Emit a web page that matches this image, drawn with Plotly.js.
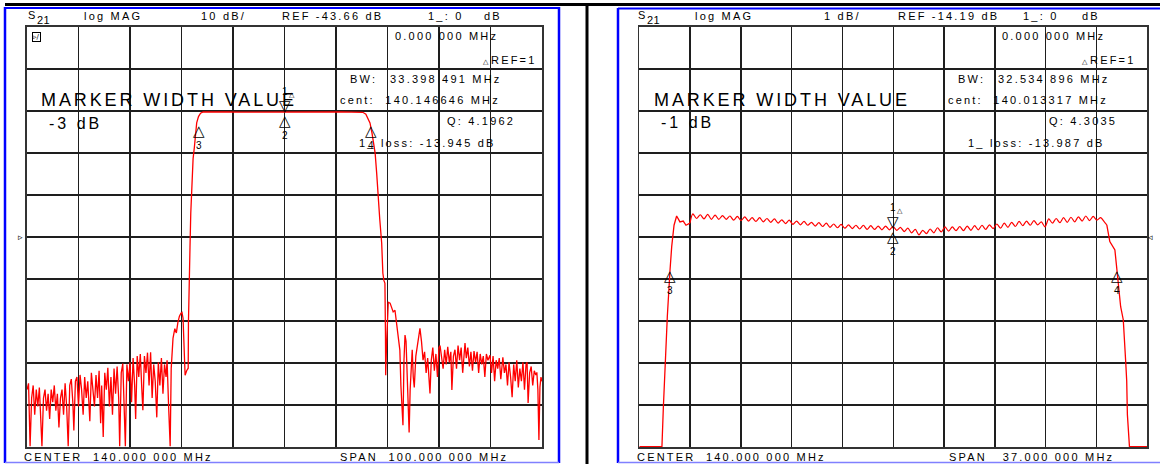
<!DOCTYPE html>
<html>
<head>
<meta charset="utf-8">
<script src="https://cdn.plot.ly/plotly-3.0.1.min.js"></script>
<style>html,body{margin:0;padding:0;background:#fff;}#chart{width:1160px;height:464px;}</style>
</head>
<body>
<div id="chart"></div>
<script>
// ---------------- DATA ----------------
// Left analyzer screen: S21 log MAG, 10 dB/div, REF -43.66 dB, center 140 MHz, span 100 MHz
const leftLowerStopband = [
 [90.0,-80],[90.3,-78.5],[90.6,-93.5],[90.9,-82],[91.2,-79],[91.5,-86],[91.8,-80],[92.1,-84],[92.4,-79.5],[92.7,-88],
 [92.9,-93.5],[93.2,-82],[93.5,-80],[93.8,-85],[94.1,-81],[94.4,-87],[94.7,-80],[95.0,-83],[95.3,-79],[95.6,-85],
 [95.9,-81],[96.2,-89],[96.5,-82],[96.8,-80],[97.1,-86],[97.4,-78.5],[97.7,-84],[98.0,-93.5],[98.3,-79],[98.6,-77.5],
 [98.9,-83],[99.1,-89.7],[99.4,-78],[99.7,-77],[100.0,-84],[100.3,-76.5],[100.6,-80],[100.9,-86],[101.2,-77],[101.5,-82],
 [101.8,-78],[102.2,-87.5],[102.5,-76],[102.8,-80],[103.1,-84],[103.4,-76.5],[103.7,-82],[104.0,-75.5],[104.3,-88],[104.5,-79],
 [104.8,-91.3],[105.1,-76],[105.4,-80],[105.7,-74.8],[106.0,-84],[106.3,-77],[106.6,-86],[106.9,-75],[107.2,-81],[107.5,-74.5],
 [107.8,-82],[108.0,-93.5],[108.3,-76],[108.6,-73.8],[108.9,-84],[109.1,-93.5],[109.4,-74],[109.7,-78],[110.0,-73.5],[110.3,-83],
 [110.6,-72.5],[110.9,-79],[111.1,-87],[111.4,-72],[111.7,-77],[112.0,-71.5],[112.3,-80],[112.5,-84.9],[112.8,-72],[113.1,-76],
 [113.4,-71.2],[113.7,-79],[114.0,-71.1],[114.3,-82],[114.6,-74],[114.9,-78],[115.2,-86.6],[115.5,-73.5],[115.8,-79],[116.1,-72.5],
 [116.4,-81],[116.7,-74],[117.0,-77],[117.2,-73],[117.5,-84],[117.8,-93.5]
];
const leftLowerSkirt = [
 [118.0,-75],[118.35,-67.8],[118.7,-65.5],[119.0,-66.5],[119.3,-64],[119.6,-62.5],[119.9,-61.8],[120.1,-61.6],[120.3,-63],
 [120.5,-70],[120.7,-76.6],[121.0,-75.5],[121.3,-74.9],[121.35,-64],[121.45,-52.5],[121.65,-46.1],[121.8,-38],[122.0,-30.1],
 [122.25,-25],[122.5,-22.3],[122.75,-18.5],[122.95,-16.5],[123.3,-15],[123.7,-14.2]
];
const leftPassband = [
 [124.2,-13.9],[125.5,-13.86],[127,-13.88],[129,-13.9],[131,-13.92],[133,-13.9],[135,-13.93],[137,-13.92],[139,-13.94],
 [140,-13.945],[141,-13.94],[143,-13.92],[145,-13.93],[147,-13.9],[149,-13.92],[151,-13.9],[153,-13.91],[154.5,-13.93],[155.2,-13.97]
];
const leftUpperSkirt = [
 [155.8,-14.4],[156.3,-15.6],[156.6,-16.5],[157.0,-19.0],[157.3,-21.5],[157.6,-23.7],[157.9,-28.5],[158.15,-34.2],[158.5,-39.5],
 [158.87,-45.1],[159.1,-52.3],[159.3,-54.0],[159.5,-54.7],[159.6,-66],[159.65,-76.6],[159.8,-70],[160.0,-63],[160.15,-59.2],
 [160.5,-59.4],[160.8,-60.5],[161.1,-61.5],[161.45,-61.1],[161.7,-63.5],[162.0,-67.8],[162.2,-69.5],[162.4,-70.6]
];
const leftUpperStopband = [
 [162.6,-79],[162.8,-86],[163.0,-88.5],[163.2,-73],[163.4,-67.0],[163.6,-68.5],[163.8,-78],[164.0,-85],[164.2,-90.2],[164.4,-80],
 [164.6,-73],[164.8,-70.5],[165.0,-77],[165.2,-79.5],[165.5,-72],[165.8,-69.5],[166.0,-67],[166.3,-65.4],[166.6,-68.5],[166.9,-73],
 [167.2,-71],[167.5,-76],[167.8,-72.5],[168.0,-77.5],[168.25,-80.9],[168.5,-73],[168.8,-70],[169.1,-75.5],[169.4,-71.5],[169.7,-77],
 [170.0,-70],[170.2,-69.5],[170.5,-72],[170.8,-75],[171.1,-70.5],[171.4,-74],[171.7,-69.8],[172.0,-73.5],[172.3,-71],[172.5,-80.1],
 [172.8,-72],[173.1,-70.5],[173.4,-75],[173.7,-69.5],[174.0,-73],[174.3,-70],[174.6,-76],[174.9,-69.5],[175.05,-68.9],[175.3,-72.5],
 [175.6,-70],[175.9,-74.5],[176.2,-71],[176.5,-75.5],[176.8,-70.8],[177.1,-73.5],[177.4,-71],[177.7,-76],[178.0,-71.5],[178.3,-74],
 [178.6,-72],[178.9,-77],[179.2,-71.5],[179.5,-73],[179.9,-71.8],[180.2,-76],[180.5,-72],[180.8,-78],[181.1,-73],[181.4,-75],
 [181.7,-72.5],[182.0,-77.5],[182.4,-72.3],[182.7,-76],[183.0,-74],[183.3,-79],[183.6,-73.5],[183.9,-77],[184.2,-81.8],[184.5,-74],
 [184.8,-78],[185.1,-73],[185.4,-79.5],[185.7,-75],[186.0,-78],[186.3,-73.5],[186.6,-80],[186.9,-74],[187.1,-73.5],[187.3,-83.2],
 [187.6,-76],[187.9,-74.5],[188.2,-79],[188.5,-75.5],[188.8,-76.5],[189.0,-75.9],[189.2,-80],[189.4,-92],[189.6,-79.4],[189.8,-77],[190.0,-78]
];
// Right analyzer screen: 1 dB/div, REF -14.19 dB, center 140 MHz, span 37 MHz
const rightLowerEdge = [
 [121.5,-19.18],[123.15,-19.18],[123.25,-18.26],[123.37,-17.19],[123.5,-16.4],[123.54,-16.09],[123.74,-14.97],[123.86,-14.42],
 [124.03,-13.91],[124.22,-13.69],[124.46,-13.83],[124.70,-13.81],[124.90,-13.91],[125.19,-13.86]
];
const rightPassbandRipple = [
 [125.19,-13.86],
 [125.40,-13.64],[125.67,-13.75],[125.94,-13.66],[126.21,-13.76],[126.48,-13.65],[126.75,-13.77],[127.02,-13.67],[127.29,-13.77],
 [127.56,-13.68],[127.83,-13.77],[128.10,-13.69],[128.37,-13.79],[128.64,-13.70],[128.91,-13.80],[129.18,-13.71],[129.45,-13.81],
 [129.72,-13.73],[129.99,-13.82],[130.26,-13.73],[130.53,-13.83],[130.80,-13.75],[131.07,-13.84],[131.34,-13.76],[131.61,-13.86],
 [131.88,-13.78],[132.15,-13.87],[132.42,-13.79],[132.69,-13.89],[132.96,-13.81],[133.23,-13.90],[133.50,-13.82],[133.77,-13.91],
 [134.04,-13.84],[134.31,-13.93],[134.58,-13.85],[134.85,-13.94],[135.12,-13.86],[135.39,-13.96],[135.66,-13.88],[135.93,-13.97],
 [136.20,-13.89],[136.47,-13.98],[136.74,-13.90],[137.01,-13.99],[137.28,-13.91],[137.55,-14.00],[137.82,-13.91],[138.09,-14.01],
 [138.36,-13.92],[138.63,-14.01],[138.90,-13.93],[139.17,-14.02],[139.44,-13.93],[139.71,-14.02],[139.98,-13.94],[140.25,-14.03],
 [140.52,-13.96],[140.79,-14.06],[141.06,-13.98],[141.33,-14.09],[141.60,-14.01],[141.87,-14.14],[142.14,-14.03],[142.41,-14.11],
 [142.68,-14.00],[142.95,-14.09],[143.22,-13.97],[143.49,-14.07],[143.76,-13.95],[144.03,-14.05],[144.30,-13.95],[144.57,-14.04],
 [144.84,-13.94],[145.11,-14.04],[145.38,-13.93],[145.65,-14.03],[145.92,-13.92],[146.19,-14.02],[146.46,-13.91],[146.73,-14.01],
 [147.00,-13.90],[147.27,-13.99],[147.54,-13.88],[147.81,-13.98],[148.08,-13.86],[148.35,-13.96],[148.62,-13.84],[148.89,-13.94],
 [149.16,-13.82],[149.43,-13.92],[149.70,-13.81],[149.97,-13.91],[150.24,-13.80],[150.51,-13.90],[150.78,-13.83],[151.05,-13.95],
 [151.32,-13.76],[151.59,-13.86],[151.86,-13.75],[152.13,-13.85],[152.40,-13.73],[152.67,-13.84],[152.94,-13.72],[153.21,-13.83],
 [153.48,-13.71],[153.75,-13.81],[154.02,-13.69],[154.29,-13.80],[154.56,-13.70],[154.83,-13.79],[155.10,-13.73],[155.37,-13.83],
 [155.55,-13.9]
];
const rightUpperEdge = [
 [155.55,-13.9],[155.65,-14.09],[155.77,-14.30],[156.14,-14.50],[156.27,-14.90],[156.39,-15.21],[156.56,-15.85],[156.75,-16.16],
 [156.8,-16.40],[156.93,-17.18],[157.0,-17.62],[157.05,-18.42],[157.2,-19.18],[158.5,-19.18]
];
// Marker readouts (frequency MHz, level dB): markers 1,2 at center, 3 and 4 at band edges
const leftMarkerFreq = [140.0, 140.0, 123.447, 156.846];
const leftMarkerDb = [-13.945, -13.945, -16.945, -16.945];
const rightMarkerFreq = [140.0, 140.0, 123.746, 156.281];
const rightMarkerDb = [-13.987, -13.987, -14.987, -14.987];
const markerLabels = ['1', '2', '3', '4'];
// Screen texts
const leftHeader = ['log MAG', '10 dB/', 'REF -43.66 dB', '1_: 0', 'dB'];
const rightHeader = ['log MAG', '1 dB/', 'REF -14.19 dB', '1_: 0', 'dB'];
const paramName = ['S', '21'];
const leftReadout = ['0.000 000 MHz', 'REF=1', 'BW:', '33.398 491 MHz', 'cent:  140.146646 MHz', 'Q: 4.1962', '1_ loss: -13.945 dB'];
const rightReadout = ['0.000 000 MHz', 'REF=1', 'BW:', '32.534 896 MHz', 'cent:  140.013317 MHz', 'Q: 4.3035', '1_ loss: -13.987 dB'];
const leftFooter = ['CENTER  140.000 000 MHz', 'SPAN  100.000 000 MHz'];
const rightFooter = ['CENTER  140.000 000 MHz', 'SPAN   37.000 000 MHz'];
const bigTitle = 'MARKER WIDTH VALUE';
const leftWidthValue = '-3 dB';
const rightWidthValue = '-1 dB';

// ---------------- LAYOUT ----------------
const W = 1160, H = 464;
const FONT = 'Arial, "Liberation Sans", Helvetica, sans-serif';
const SYM = '"DejaVu Sans", sans-serif';
const RED = '#ff0000';
const INK = '#000';

function join(...segs){ const x=[], y=[]; segs.forEach(s=>s.forEach(p=>{x.push(p[0]); y.push(p[1]);})); return {x, y}; }
const L = join(leftLowerStopband, leftLowerSkirt, leftPassband, leftUpperSkirt, leftUpperStopband);
const R1 = join(rightLowerEdge);
const R2 = join(rightPassbandRipple);
const R3 = join(rightUpperEdge);

const traces = [
  {x: L.x, y: L.y, xaxis: 'x', yaxis: 'y', type: 'scatter', mode: 'lines', line: {color: RED, width: 1.3}, hoverinfo: 'skip'},
  {x: R1.x, y: R1.y, xaxis: 'x2', yaxis: 'y2', type: 'scatter', mode: 'lines', line: {color: RED, width: 1.3}, hoverinfo: 'skip'},
  {x: R2.x, y: R2.y, xaxis: 'x2', yaxis: 'y2', type: 'scatter', mode: 'lines', line: {color: RED, width: 1.2, shape: 'spline', smoothing: 0.8}, hoverinfo: 'skip'},
  {x: R3.x, y: R3.y, xaxis: 'x2', yaxis: 'y2', type: 'scatter', mode: 'lines', line: {color: RED, width: 1.3}, hoverinfo: 'skip'}
];

function T(px, py, text, size, ls, extra){
  return Object.assign({xref: 'paper', yref: 'paper', x: px / W, y: 1 - py / H, xanchor: 'left', yanchor: 'middle',
    text: '<span style="letter-spacing:' + ls + 'px">' + text + '</span>', showarrow: false, borderpad: 0,
    font: {family: FONT, size: size, color: INK}}, extra || {});
}
const ann = [];
// headers
const hdrL = [83, 200, 281, 427, 483];
const hdrR = [694, 823, 897, 1022, 1081];
leftHeader.forEach((t, i) => ann.push(T(hdrL[i], 16, t, 11, 2.2)));
rightHeader.forEach((t, i) => ann.push(T(hdrR[i], 16, t, 11, 2.2)));
[[27], [637]].forEach(p => {
  ann.push(T(p[0], 15, paramName[0], 11, 0));
  ann.push(T(p[0] + 9, 20, paramName[1], 11, 0.5));
});
// readouts
function readout(arr, pos){
  arr.forEach((t, i) => ann.push(T(pos[i][0], pos[i][1], t, 11, 2.2)));
}
readout(leftReadout, [[394,36],[490,60],[349,79],[389,79],[339,100],[446,121],[358,143]]);
readout(rightReadout, [[1001,36],[1089,60],[957,79],[997,79],[947,100],[1048,121],[967,143]]);
ann.push(T(482, 62, '△', 7, 0, {font: {family: SYM, size: 7, color: INK}}));
ann.push(T(1081, 62, '△', 7, 0, {font: {family: SYM, size: 7, color: INK}}));
// footers
ann.push(T(23, 457, leftFooter[0], 11, 2.2));
ann.push(T(339, 457, leftFooter[1], 11, 2.2));
ann.push(T(636, 457, rightFooter[0], 11, 2.2));
ann.push(T(948, 457, rightFooter[1], 11, 2.2));
// big texts
ann.push(T(40, 100, bigTitle, 18, 2.9));
ann.push(T(48, 123, leftWidthValue, 16, 3));
ann.push(T(653, 100, bigTitle, 18, 2.9));
ann.push(T(660, 122, rightWidthValue, 16, 3));
// reference position arrows
ann.push(T(17, 237, '▹', 9, 0, {font: {family: SYM, size: 9, color: INK}}));
ann.push(T(1147, 237, '◃', 9, 0, {font: {family: SYM, size: 9, color: INK}}));
// small icon
ann.push(T(32, 37, '▹/', 7, 0, {font: {family: SYM, size: 7, color: INK}, bordercolor: INK, borderwidth: 1, borderpad: 0}));

// markers via data axes
function markers(freqs, dbs, xr, yr){
  for (let i = 0; i < freqs.length; i++){
    const base = {xref: xr, yref: yr, x: freqs[i], y: dbs[i], showarrow: false, borderpad: 0};
    if (i === 0){
      ann.push(Object.assign({}, base, {text: '▽', yanchor: 'bottom', xanchor: 'center', yshift: -4, font: {family: SYM, size: 15, color: INK}}));
      ann.push(Object.assign({}, base, {text: markerLabels[i], yanchor: 'bottom', xanchor: 'center', yshift: 14, font: {family: FONT, size: 10, color: INK}}));
      ann.push(Object.assign({}, base, {text: '△', yanchor: 'bottom', xanchor: 'left', xshift: 3, yshift: 12, font: {family: SYM, size: 7, color: INK}}));
    } else {
      const drop = i === 1 ? -3 : 0;
      ann.push(Object.assign({}, base, {text: '△', yanchor: 'top', xanchor: 'center', yshift: 4 + drop, font: {family: SYM, size: 15, color: INK}}));
      ann.push(Object.assign({}, base, {text: markerLabels[i], yanchor: 'top', xanchor: 'center', yshift: -14 + drop, font: {family: FONT, size: 10, color: INK}}));
    }
  }
}
markers(leftMarkerFreq, leftMarkerDb, 'x', 'y');
markers(rightMarkerFreq, rightMarkerDb, 'x2', 'y2');

function ln(x0, y0, x1, y1, color, w){
  return {type: 'line', xref: 'paper', yref: 'paper', x0: x0 / W, x1: x1 / W, y0: 1 - y0 / H, y1: 1 - y1 / H, line: {color: color, width: w}, layer: 'above'};
}
const shapes = [
  ln(5, 4.5, 1160, 4.5, '#000', 3),
  ln(5, 8, 559, 8, '#0000ff', 2),
  ln(5, 7, 5, 463, '#0000ff', 2.5),
  ln(559, 7, 559, 463, '#0000ff', 2.5),
  ln(5, 462.5, 559, 462.5, '#8080ff', 1.5),
  ln(587, 3, 587, 464, '#000', 3),
  ln(618, 8, 618, 463, '#0000ff', 2.5),
  ln(618, 8.5, 1160, 8.5, '#0000ff', 2),
  ln(618, 462.5, 1160, 462.5, '#8080ff', 1.5)
];

const ydom = [17 / H, 437 / H];
function ax(range, tick0, dtick, dom, anchor){
  return {range: range, tick0: tick0, dtick: dtick, domain: dom, anchor: anchor, showgrid: true, gridcolor: '#1e1e1e', gridwidth: 1.4,
    showline: true, mirror: true, linecolor: '#333', linewidth: 1.6, zeroline: false, showticklabels: false, ticks: '', fixedrange: true};
}
const layout = {
  width: W, height: H, margin: {l: 0, r: 0, t: 0, b: 0}, paper_bgcolor: '#fff', plot_bgcolor: '#fff', showlegend: false,
  xaxis: ax([90, 190], 90, 10, [27 / W, 542 / W], 'y'),
  yaxis: ax([-93.66, 6.34], -43.66, 10, ydom, 'x'),
  xaxis2: ax([121.5, 158.5], 121.5, 3.7, [639.3 / W, 1147.3 / W], 'y2'),
  yaxis2: ax([-19.19, -9.19], -14.19, 1, ydom, 'x2'),
  annotations: ann,
  shapes: shapes
};
Plotly.newPlot('chart', traces, layout, {staticPlot: true, displayModeBar: false});
</script>
</body>
</html>
